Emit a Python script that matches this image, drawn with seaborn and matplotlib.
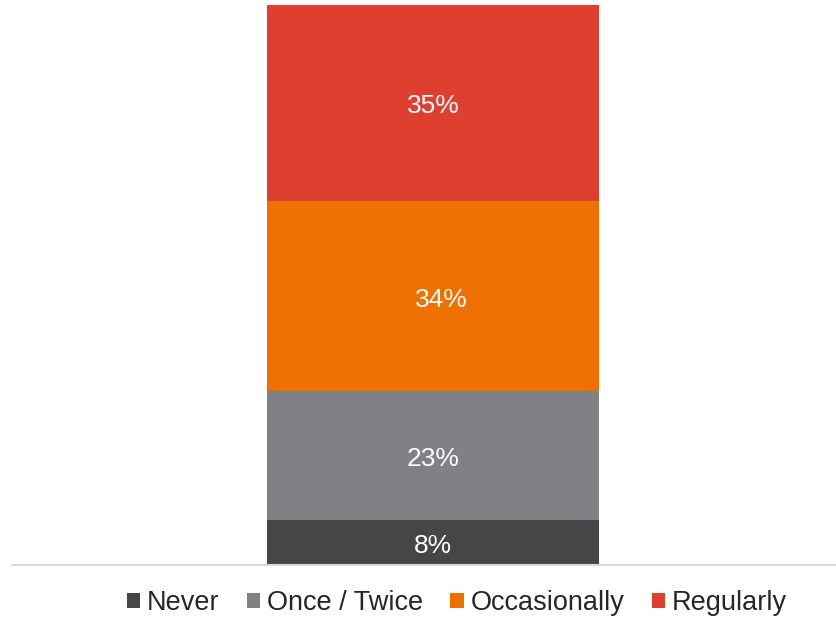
import matplotlib
matplotlib.use("Agg")
import matplotlib.pyplot as plt
import seaborn as sns
import pandas as pd
from matplotlib.patches import Patch

sns.set_theme(style="white")
plt.rcParams["font.family"] = ["Liberation Sans", "DejaVu Sans"]

# Share of respondents by frequency (stacked from the bottom)
categories = ["Never", "Once / Twice", "Occasionally", "Regularly"]
shares = [8, 23, 34, 35]
colors = ["#464646", "#818085", "#EE7100", "#DF3F2F"]
group = ["All"]

W, H = 837, 617
fig = plt.figure(figsize=(W / 100, H / 100), dpi=100)
ax = fig.add_axes([12 / W, (H - 565) / H, (W - 12) / W, 560 / H])

bottom = 0
for cat, val, col in zip(categories, shares, colors):
    df = pd.DataFrame({"group": group, "share": [val]})
    sns.barplot(data=df, x="group", y="share", color=col, width=0.8,
                bottom=bottom, saturation=1, ax=ax, linewidth=0)
    dx = 8 if cat == "Occasionally" else 0
    ax.annotate(f"{val}%", (0, bottom + val / 2), xytext=(dx * 0.72, -2.5),
                textcoords="offset points", ha="center", va="center",
                color="white", fontsize=19)
    bottom += val

ax.set_xlim(-421 / 415, 404 / 415)
ax.set_ylim(0, 100)
ax.set_xlabel("")
ax.set_ylabel("")
ax.set_xticks([])
ax.set_yticks([])
for s in ["top", "left", "right"]:
    ax.spines[s].set_visible(False)
ax.spines["bottom"].set_color("#D9D9D9")
ax.spines["bottom"].set_linewidth(1.5)

handles = [Patch(facecolor=c, edgecolor="none") for c in colors]
fig.legend(handles, categories, loc="center", ncol=4,
           bbox_to_anchor=(457 / W, 1 - 603 / H), frameon=False,
           fontsize=19.5, handlelength=0.5, handleheight=0.5,
           handletextpad=0.25, columnspacing=1.0, labelcolor="#262626")

fig.savefig("out.png", dpi=100)
